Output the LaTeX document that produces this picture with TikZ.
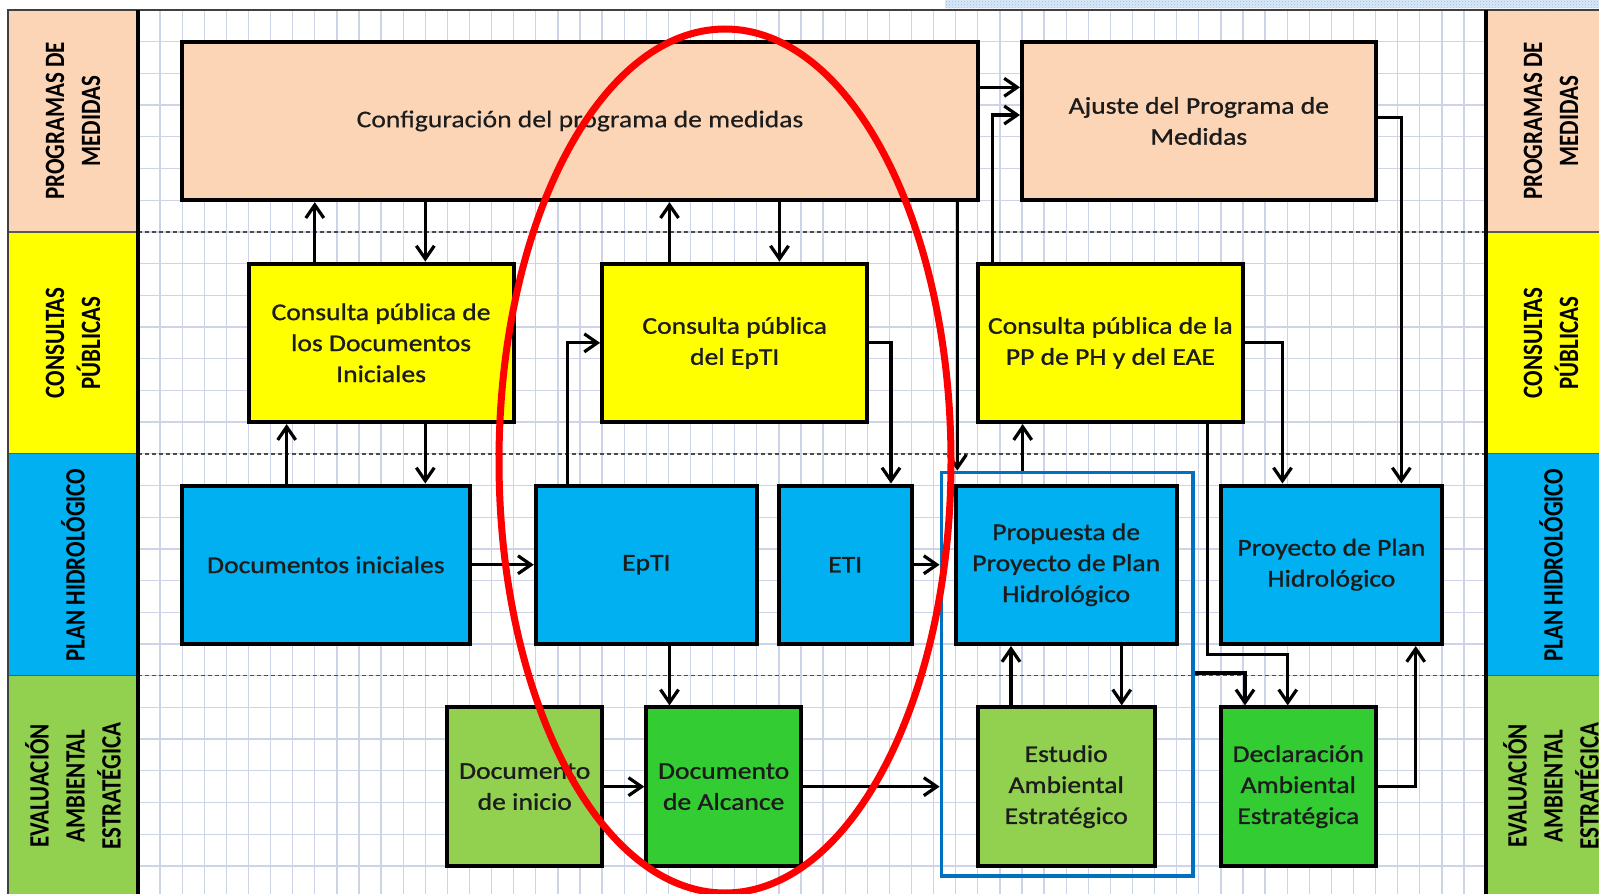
\documentclass[tikz,border=0pt]{standalone}
\usepackage{fontspec}
\setmainfont{Carlito}
\newfontfamily\boxfont{Carlito}[FakeStretch=1.15,FakeBold=1.1]
\newfontfamily\cfgfont{Carlito}[FakeStretch=1.15,FakeBold=0.4]
\newfontfamily\labfont{Carlito}[FakeStretch=0.82]
\usetikzlibrary{arrows.meta,patterns}
\definecolor{peach}{RGB}{251,213,181}
\definecolor{ylw}{RGB}{255,255,0}
\definecolor{phblue}{RGB}{0,176,240}
\definecolor{lgreen}{RGB}{146,208,80}
\definecolor{dgreen}{RGB}{51,204,51}
\definecolor{grpblue}{RGB}{0,112,192}
\definecolor{gridc}{RGB}{206,212,231}
\definecolor{txt}{RGB}{28,28,28}
\definecolor{bandblue}{RGB}{150,190,230}
\begin{document}
\begin{tikzpicture}[x=1pt,y=-1pt,
  box/.style={draw=black, line width=4pt, rectangle, align=center, text=txt,
    font=\boxfont\fontsize{24}{31}\selectfont, inner sep=0pt},
  lab/.style={rotate=90, align=center, text=black, inner sep=0pt,
    font=\labfont\bfseries\fontsize{28}{36}\selectfont},
  arr/.style={line width=3.2pt, draw=black, -{Straight Barb[length=13pt,width=18pt]}},
  gridline/.style={draw=gridc, line width=1.3pt},
  rowdash/.style={draw=black!70, line width=1.5pt, dash pattern=on 4pt off 3pt},
  grprect/.style={draw=grpblue, line width=3.8pt, rectangle, inner sep=0pt},
]
\useasboundingbox (0,0) rectangle (1599,894);
\fill[white] (0,0) rectangle (1599,894);
% top dotted band
\fill[bandblue!35] (945,0) rectangle (1599,8);
\fill[pattern=crosshatch dots, pattern color=bandblue] (945,0) rectangle (1599,8);
% grid
\foreach \k in {0,...,61} \draw[gridline] ({138+22.1*\k},10) -- ({138+22.1*\k},894);
\foreach \j in {0,...,28} \draw[gridline] (138,{10+31.7*\j}) -- (1486,{10+31.7*\j});
% row separators
\foreach \yy in {231.9,453.8,675.7} \draw[rowdash] (138,\yy) -- (1486,\yy);
% side columns
\foreach \xa/\xb in {8/138,1486/1620} {
  \fill[peach] (\xa,10) rectangle (\xb,231.9);
  \fill[ylw] (\xa,231.9) rectangle (\xb,453.8);
  \fill[phblue] (\xa,453.8) rectangle (\xb,675.7);
  \fill[lgreen] (\xa,675.7) rectangle (\xb,894);
  \foreach \yy in {231.9,453.8,675.7} \draw[black!65, line width=1.2pt] (\xa,\yy) -- (\xb,\yy);
}
\draw[black!75, line width=1.8pt] (8,894) -- (8,10) -- (1599,10);
\draw[black, line width=3.4pt] (138,10) -- (138,894);
\draw[black, line width=3.4pt] (1486,10) -- (1486,894);
% side labels
\node[lab] (lpm) at (73,121) {PROGRAMAS DE\\MEDIDAS};
\node[lab] (lcp) at (73,343) {CONSULTAS\\PÚBLICAS};
\node[lab] (lph) at (73,565) {PLAN HIDROLÓGICO};
\node[lab] (lea) at (73,786) {EVALUACIÓN\\AMBIENTAL\\ESTRATÉGICA};
\node[lab] (rpm) at (1551,121) {PROGRAMAS DE\\MEDIDAS};
\node[lab] (rcp) at (1551,343) {CONSULTAS\\PÚBLICAS};
\node[lab] (rph) at (1551,565) {PLAN HIDROLÓGICO};
\node[lab] (rea) at (1551,786) {EVALUACIÓN\\AMBIENTAL\\ESTRATÉGICA};
% boxes
\node[box, fill=peach, font=\cfgfont\fontsize{24}{31}\selectfont, minimum width=795.6pt, minimum height=158.5pt] (cfg) at (580,120.95) {Configuración del programa de medidas};
\node[box, fill=peach, minimum width=353.6pt, minimum height=158.5pt] (ajs) at (1198.8,120.95) {Ajuste del Programa de\\Medidas};
\node[box, fill=ylw, minimum width=265.2pt, minimum height=158.5pt] (cdi) at (381.1,342.85) {Consulta pública de\\los Documentos\\Iniciales};
\node[box, fill=ylw, minimum width=265.2pt, minimum height=158.5pt] (cept) at (734.7,342.85) {Consulta pública\\del EpTI};
\node[box, fill=ylw, minimum width=265.2pt, minimum height=158.5pt] (cpp) at (1110.4,342.85) {Consulta pública de la\\PP de PH y del EAE};
\node[box, fill=phblue, minimum width=287.3pt, minimum height=158.5pt] (dci) at (325.85,564.75) {Documentos iniciales};
\node[box, fill=phblue, minimum width=221pt, minimum height=158.5pt] (ept) at (646.3,564.75) {EpTI};
\node[box, fill=phblue, minimum width=132.6pt, minimum height=158.5pt] (eti) at (845.2,564.75) {ETI};
\node[box, fill=phblue, minimum width=221pt, minimum height=158.5pt] (prp) at (1066.2,564.75) {Propuesta de\\Proyecto de Plan\\Hidrológico};
\node[box, fill=phblue, minimum width=221pt, minimum height=158.5pt] (pry) at (1331.4,564.75) {Proyecto de Plan\\Hidrológico};
\node[box, fill=lgreen, minimum width=154.7pt, minimum height=158.5pt] (dinc) at (524.75,786.65) {Documento\\de inicio};
\node[box, fill=dgreen, minimum width=154.7pt, minimum height=158.5pt] (alc) at (723.65,786.65) {Documento\\de Alcance};
\node[box, fill=lgreen, minimum width=176.8pt, minimum height=158.5pt] (est) at (1066.2,786.65) {Estudio\\Ambiental\\Estratégico};
\node[box, fill=dgreen, minimum width=154.7pt, minimum height=158.5pt] (decl) at (1298.25,786.65) {Declaración\\Ambiental\\Estratégica};
% blue group frame
\node[grprect, minimum width=251.2pt, minimum height=403.2pt] (grp) at (1067.1,674.1) {};
% helper coordinates
\coordinate (xa) at (314.8,0);
\coordinate (xb) at (425.3,0);
\coordinate (xc) at (286.7,0);
\coordinate (xd) at (567.3,0);
\coordinate (xe) at (669.5,0);
\coordinate (xf) at (779.5,0);
\coordinate (xg) at (891,0);
\coordinate (xh) at (957.3,0);
\coordinate (xi) at (992.7,0);
\coordinate (xj) at (1022.7,0);
\coordinate (xk) at (1282.5,0);
\coordinate (xl) at (1401.3,0);
\coordinate (xm) at (1207.7,0);
\coordinate (xn) at (1287.7,0);
\coordinate (xo) at (1245,0);
\coordinate (xp) at (1415.7,0);
\coordinate (xq) at (1011,0);
\coordinate (xr) at (1121.7,0);
\coordinate (ya) at (0,87.3);
\coordinate (yb) at (0,115);
\coordinate (yc) at (0,117.3);
\coordinate (yd) at (0,654.7);
\coordinate (ye) at (0,673);
% connectors
\draw[arr] (cdi.north -| xa) -- (cfg.south -| xa);
\draw[arr] (cfg.south -| xb) -- (cdi.north -| xb);
\draw[arr] (dci.north -| xc) -- (cdi.south -| xc);
\draw[arr] (cdi.south -| xb) -- (dci.north -| xb);
\draw[arr] (dci.east) -- (ept.west);
\draw[arr] (ept.north -| xd) |- (cept.west);
\draw[arr] (cept.north -| xe) -- (cfg.south -| xe);
\draw[arr] (cfg.south -| xf) -- (cept.north -| xf);
\draw[arr] (cept.east) -| (eti.north -| xg);
\draw[arr] (eti.east) -- (eti.east -| grp.west);
\draw[arr] (ept.south -| xe) -- (alc.north -| xe);
\draw[arr] (dinc.east) -- (alc.west);
\draw[arr] (alc.east) -- (alc.east -| grp.west);
\draw[arr] (cfg.east |- ya) -- (ajs.west |- ya);
\draw[arr] (cfg.south -| xh) -- (grp.north -| xh);
\draw[arr] (cpp.north -| xi) |- (ajs.west |- yb);
\draw[arr] (grp.north -| xj) -- (cpp.south -| xj);
\draw[arr] (cpp.east) -| (pry.north -| xk);
\draw[arr] (ajs.east |- yc) -| (pry.north -| xl);
\draw[arr] (cpp.south -| xm) -- (xm |- yd) -| (decl.north -| xn);
\draw[arr] (grp.east |- ye) -| (decl.north -| xo);
\draw[arr] (decl.east) -| (pry.south -| xp);
\draw[arr] (est.north -| xq) -- (prp.south -| xq);
\draw[arr] (prp.south -| xr) -- (est.north -| xr);
% red highlight ellipse
\draw[red, line width=7pt] (725,461) ellipse [x radius=226pt, y radius=432pt];
\end{tikzpicture}
\end{document}
